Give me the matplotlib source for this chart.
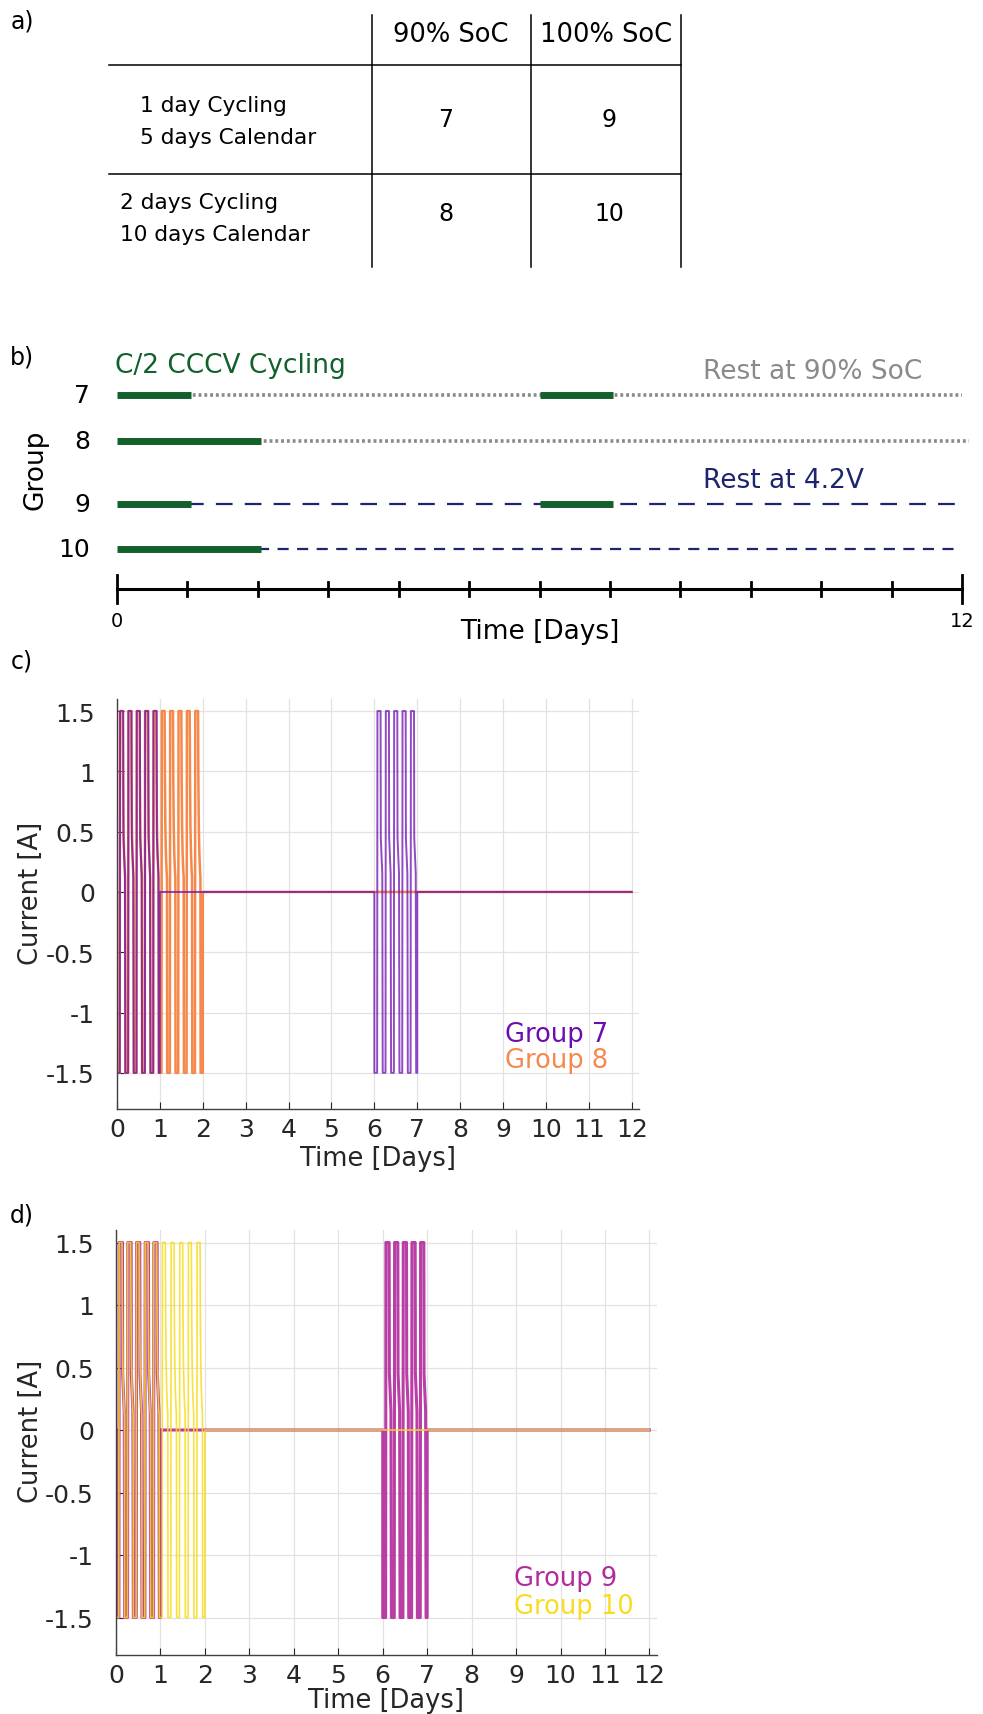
import matplotlib
matplotlib.use("Agg")
import matplotlib.pyplot as plt
from matplotlib.ticker import FixedLocator, FixedFormatter

plt.rcParams['font.family'] = ['DejaVu Sans']
plt.rcParams['axes.unicode_minus'] = False

W, H = 983, 1715

# table a)
soc_headers = ['90% SoC', '100% SoC']
protocol_rows = ['1 day Cycling\n5 days Calendar', '2 days Cycling\n10 days Calendar']
group_table = [['7', '9'], ['8', '10']]

# schedule b)
groups = ['7', '8', '9', '10']
cycling_windows = {'7': [(0, 1), (6, 7)], '8': [(0, 2)], '9': [(0, 1), (6, 7)], '10': [(0, 2)]}
rest_spans = {'7': (1, 12.0), '8': (2, 12.1), '9': (1, 12.0), '10': (2, 12.0)}
schedule_ticks = list(range(13))

# one CC-CV cycle, days from cycle start / current in A
cycle_1d_t = [0.000, 0.065, 0.072, 0.145, 0.150, 0.185]
cycle_1d_i = [-1.5, -1.5, 1.5, 1.5, 0.45, 0.15]
cycle_2d_t = [0.000, 0.062, 0.070, 0.135, 0.142, 0.152, 0.165, 0.180, 0.190]
cycle_2d_i = [-1.5, -1.5, 1.5, 1.5, 0.95, 0.55, 0.32, 0.18, 0.12]
cycle_period = 0.195
final_discharge = -1.5

# cycling blocks: (start day, number of cycles, block length in days)
blocks_7 = [(0, 5, 1.0), (6, 5, 1.0)]
blocks_8 = [(0, 10, 2.0)]
blocks_9 = [(0, 5, 1.0), (6, 5, 1.0)]
blocks_10 = [(0, 10, 2.0)]
test_end = 12.0

current_ticks = [-1.5, -1, -0.5, 0, 0.5, 1, 1.5]
current_labels = ['-1.5', '-1', '-0.5', '0', '0.5', '1', '1.5']
day_ticks = list(range(13))

C_GREEN = '#12602c'
C_GREY = '#8a8a8a'
C_NAVY = '#1d2470'
C7, C8, C9, C10 = '#6c0db0', '#f5884a', '#b22a9c', '#f8dc1e'
TXT = '#262626'


def build_current(blocks, cyc_t, cyc_i):
    t, i = [0.0], [0.0]
    for start, n, length in blocks:
        t.append(start)
        i.append(0.0)
        for k in range(n):
            c0 = start + k * cycle_period
            t += [c0 + dt for dt in cyc_t]
            i += cyc_i
        t += [start + n * cycle_period, start + length, start + length]
        i += [final_discharge, final_discharge, 0.0]
    t.append(test_end)
    i.append(0.0)
    return t, i


def px_box(l, t, r, b):
    return [l / W, 1 - b / H, (r - l) / W, (b - t) / H]


fig = plt.figure(figsize=(W / 100, H / 100), dpi=100)

# --- a) table, drawn in pixel space
ov = fig.add_axes([0, 0, 1, 1])
ov.set_xlim(0, W)
ov.set_ylim(H, 0)
ov.axis('off')
for x in (372, 531, 681):
    ov.plot([x, x], [16, 268], color='black', lw=1.1)
for y in (66, 175):
    ov.plot([109, 681], [y, y], color='black', lw=1.1)
for x, h in zip((451, 606), soc_headers):
    ov.text(x, 35, h, ha='center', va='center', fontsize=18.5, color='black')
for (x, y), r in zip(((140, 122), (120, 219)), protocol_rows):
    ov.text(x, y, r, ha='left', va='center', fontsize=15.6, color='black', linespacing=1.7)
for y, row in zip((120, 214), group_table):
    for x, g in zip((446, 609), row):
        ov.text(x, y, g, ha='center', va='center', fontsize=17, color='black')

for lab, (x, y) in zip(['a)', 'b)', 'c)', 'd)'], [(22, 22), (22, 357), (22, 662), (22, 1216)]):
    ov.text(x, y, lab, ha='center', va='center', fontsize=17, color='black')

# --- b) test schedule
axb = fig.add_axes(px_box(117, 330, 962, 640))
axb.set_xlim(0, 12)
axb.set_ylim(640, 330)
axb.axis('off')
row_pos = {'7': 396, '8': 442, '9': 505, '10': 550}
rest_style = {'7': (C_GREY, 2.6, (0, (0.8, 0.8))), '8': (C_GREY, 2.6, (0, (0.8, 0.8))),
              '9': (C_NAVY, 1.6, (0, (7.5, 5.5))), '10': (C_NAVY, 1.6, (0, (5.0, 3.8)))}
for g in groups:
    y = row_pos[g]
    col, lw, ls = rest_style[g]
    axb.plot(rest_spans[g], [y, y], color=col, lw=lw, linestyle=ls, clip_on=False)
    for a, b in cycling_windows[g]:
        axb.plot([a, b + 0.05], [y, y], color=C_GREEN, lw=5, solid_capstyle='butt', clip_on=False)
    ov.text(90, y, g, ha='right', va='center', fontsize=18, color='black')

axis_y = 590
axb.plot([0, 12], [axis_y, axis_y], color='black', lw=2.2, clip_on=False)
for d in schedule_ticks:
    half = 14 if d in (0, 12) else 7
    axb.plot([d, d], [axis_y - half, axis_y + half], color='black', lw=2.0, clip_on=False)
axb.text(0, 622, '0', ha='center', va='center', fontsize=14, color='black')
axb.text(12, 622, '12', ha='center', va='center', fontsize=14, color='black')
axb.text(6, 632, 'Time [Days]', ha='center', va='center', fontsize=19, color='black')
axb.text(-0.03, 366, 'C/2 CCCV Cycling', ha='left', va='center', fontsize=19, color=C_GREEN)
axb.text(8.32, 372, 'Rest at 90% SoC', ha='left', va='center', fontsize=19, color=C_GREY)
axb.text(8.32, 481, 'Rest at 4.2V', ha='left', va='center', fontsize=19, color=C_NAVY)
ov.text(36, 470, 'Group', rotation=90, ha='center', va='center', fontsize=19, color='black')


# --- c) and d) current profiles
def style_current_axes(ax, ylab_x, xlab_y):
    ax.set_xlim(0, 12.17)
    ax.set_ylim(-1.8, 1.6)
    ax.yaxis.set_major_locator(FixedLocator(current_ticks))
    ax.yaxis.set_major_formatter(FixedFormatter(current_labels))
    ax.set_xticks(day_ticks)
    ax.grid(True, color='#e2e2e2', lw=0.9)
    ax.set_axisbelow(True)
    for s in ('top', 'right'):
        ax.spines[s].set_visible(False)
    for s in ('left', 'bottom'):
        ax.spines[s].set_color('#404040')
        ax.spines[s].set_linewidth(1.0)
    ax.tick_params(direction='in', length=5, colors=TXT, labelsize=18, pad=6)
    ax.tick_params(axis='y', pad=16)
    ax.set_xlabel('Time [Days]', fontsize=18.5, color=TXT)
    ax.set_ylabel('Current [A]', fontsize=18.5, color=TXT)
    # centre the y label on the zero-current level
    ax.yaxis.set_label_coords(ylab_x, (0 - (-1.8)) / 3.4)
    ax.xaxis.set_label_coords(0.5, xlab_y)


axc = fig.add_axes(px_box(117, 700, 639, 1110))
t8, i8 = build_current(blocks_8, cycle_2d_t, cycle_2d_i)
t7, i7 = build_current(blocks_7, cycle_1d_t, cycle_1d_i)
axc.plot(t8, i8, color=C8, lw=1.8)
axc.plot(t7, i7, color=C7, lw=1.4, alpha=0.75)
style_current_axes(axc, -0.14, -0.088)
axc.text(0.743, 0.183, 'Group 7', transform=axc.transAxes, color=C7, fontsize=18.5, va='center')
axc.text(0.743, 0.120, 'Group 8', transform=axc.transAxes, color=C8, fontsize=18.5, va='center')

axd = fig.add_axes(px_box(116, 1231, 657, 1656))
t9, i9 = build_current(blocks_9, cycle_1d_t, cycle_1d_i)
t10, i10 = build_current(blocks_10, cycle_2d_t, cycle_2d_i)
axd.plot(t9, i9, color=C9, lw=2.2, alpha=0.9)
axd.plot(t10, i10, color=C10, lw=1.2, alpha=0.85)
style_current_axes(axd, -0.133, -0.076)
axd.text(0.736, 0.181, 'Group 9', transform=axd.transAxes, color=C9, fontsize=18.5, va='center')
axd.text(0.736, 0.115, 'Group 10', transform=axd.transAxes, color=C10, fontsize=18.5, va='center')

fig.savefig('out.png', dpi=100)
